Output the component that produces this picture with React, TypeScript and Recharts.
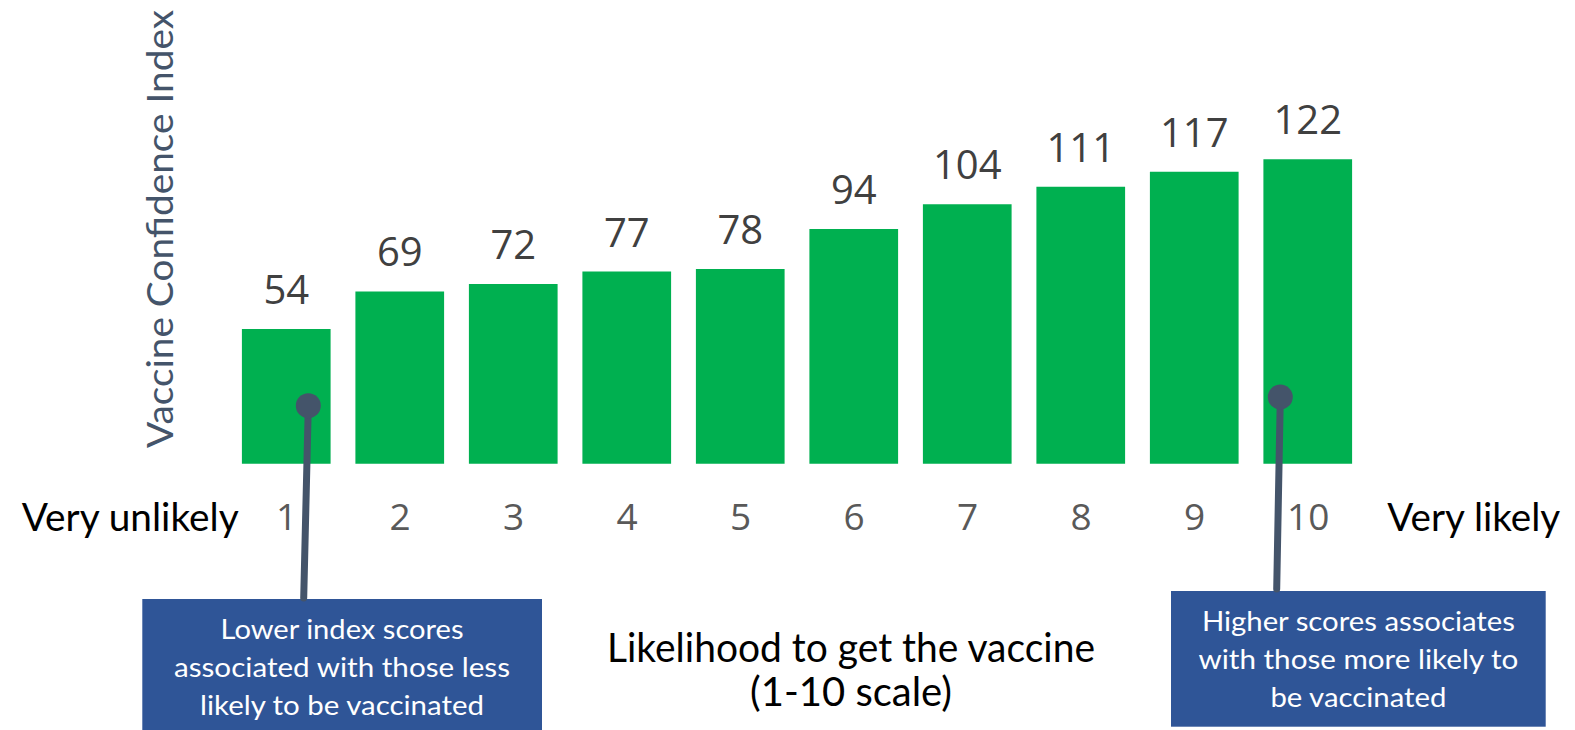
import React from 'react';
import { BarChart, Bar, XAxis, YAxis, LabelList } from 'recharts';

const categories = ['1', '2', '3', '4', '5', '6', '7', '8', '9', '10'];
const confidenceIndex = [54, 69, 72, 77, 78, 94, 104, 111, 117, 122];
const yDomainMax = 140;
const leftEndLabel = 'Very unlikely';
const rightEndLabel = 'Very likely';
const yTitle = 'Vaccine Confidence Index';
const xTitleLines = ['Likelihood to get the vaccine', '(1-10 scale)'];
const lowNote = ['Lower index scores', 'associated with those less', 'likely to be vaccinated'];
const highNote = ['Higher scores associates', 'with those more likely to', 'be vaccinated'];

const data = categories.map((c, i) => ({ name: c, value: confidenceIndex[i] }));

const CAL = 'Lato, "Open Sans", sans-serif';
const SEG = '"Open Sans", sans-serif';
const SLATE = '#44546A';
const BOX = '#2F5597';

const Tick = (props: any) => (
  <text
    x={props.x}
    y={props.y + 58}
    textAnchor="middle"
    fontFamily={SEG}
    fontSize={37}
    fill="#595959"
  >
    {props.payload.value}
  </text>
);

const Note = ({ x, y, w, h, lines, cx, baseline, widths }: any) => (
  <g>
    <rect x={x} y={y} width={w} height={h} fill={BOX} />
    {lines.map((l: string, i: number) => (
      <text
        key={i}
        x={cx}
        y={baseline + i * 38}
        textAnchor="middle"
        fontFamily={CAL}
        fontSize={26}
        fill="#FFFFFF"
        textLength={widths[i]}
        lengthAdjust="spacingAndGlyphs"
      >
        {l}
      </text>
    ))}
  </g>
);

export default function App() {
  return (
    <div style={{ position: 'absolute', left: 0, top: 0, width: 1575, height: 730, background: '#fff' }}>
      <BarChart
        width={1575}
        height={730}
        data={data}
        margin={{ top: 114.3, right: 210.1, bottom: 206.3, left: 229.9 }}
      >
        <XAxis
          dataKey="name"
          axisLine={false}
          tickLine={false}
          height={60}
          interval={0}
          tick={<Tick />}
        />
        <YAxis hide domain={[0, yDomainMax]} />
        <Bar dataKey="value" fill="#00B050" barSize={88.7} isAnimationActive={false}>
          <LabelList
            dataKey="value"
            position="top"
            offset={25}
            fontFamily={SEG}
            fontSize={40}
            fill="#404040"
          />
        </Bar>
      </BarChart>
      <svg
        width={1575}
        height={730}
        style={{ position: 'absolute', left: 0, top: 0, pointerEvents: 'none' }}
      >
        <text
          x={172.7}
          y={229}
          transform="rotate(-90 172.7 229)"
          textAnchor="middle"
          fontFamily={CAL}
          fontWeight={400}
          fontSize={37}
          fill={SLATE}
          textLength={438}
          lengthAdjust="spacingAndGlyphs"
        >
          {yTitle}
        </text>
        <text x={21.7} y={531} fontFamily={CAL} fontSize={38} fill="#000" textLength={217} lengthAdjust="spacingAndGlyphs">
          {leftEndLabel}
        </text>
        <text x={1387.3} y={531} fontFamily={CAL} fontSize={38} fill="#000" textLength={173} lengthAdjust="spacingAndGlyphs">
          {rightEndLabel}
        </text>
        <text x={851} y={661.7} textAnchor="middle" fontFamily={CAL} fontSize={40} fill="#000" textLength={488} lengthAdjust="spacingAndGlyphs">
          {xTitleLines[0]}
        </text>
        <text x={851} y={705.5} textAnchor="middle" fontFamily={CAL} fontSize={40} fill="#000">
          {xTitleLines[1]}
        </text>
        <Note x={142.3} y={599} w={399.7} h={140} lines={lowNote} cx={342} baseline={639} widths={[243, 336, 284]} />
        <Note x={1171} y={591} w={374.7} h={135.7} lines={highNote} cx={1358.4} baseline={631} widths={[313, 320, 176]} />
        <line x1={308.3} y1={405.7} x2={303.7} y2={598} stroke={SLATE} strokeWidth={7} strokeLinecap="round" />
        <circle cx={308.3} cy={405.7} r={12.5} fill={SLATE} />
        <line x1={1280.3} y1={397} x2={1276.7} y2={589} stroke={SLATE} strokeWidth={7} strokeLinecap="round" />
        <circle cx={1280.3} cy={397} r={12.5} fill={SLATE} />
      </svg>
    </div>
  );
}
